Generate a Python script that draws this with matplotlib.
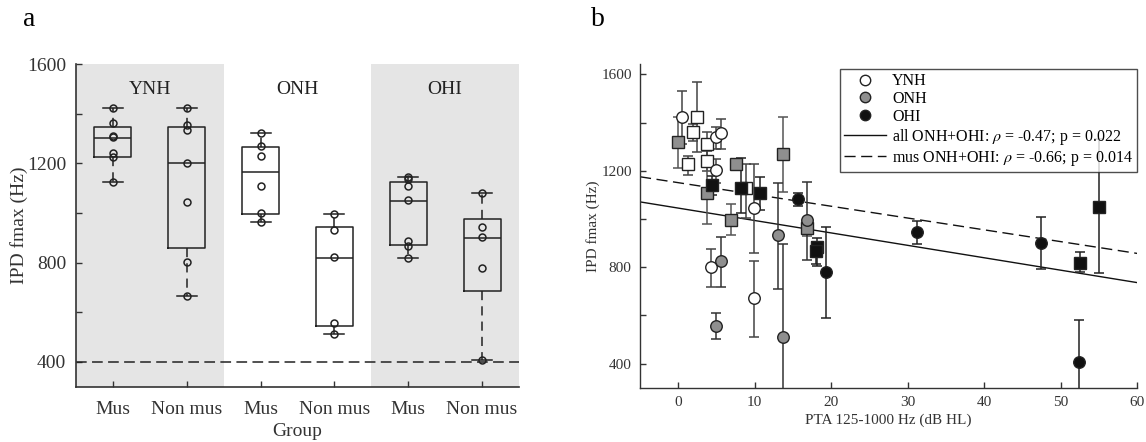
import matplotlib
matplotlib.use("Agg")
import matplotlib.pyplot as plt
from matplotlib.lines import Line2D
import numpy as np

plt.rcParams['font.family'] = ['Liberation Serif', 'DejaVu Serif']
plt.rcParams['mathtext.fontset'] = 'stix'

# ---------------- Panel a data ----------------
groups = ['YNH', 'ONH', 'OHI']
tick_labels_a = ['Mus', 'Non mus', 'Mus', 'Non mus', 'Mus', 'Non mus']
ynh_mus = [1424, 1361, 1311, 1305, 1243, 1224, 1126]
ynh_non = [1423, 1354, 1334, 1203, 1046, 801, 667]
onh_mus = [1322, 1269, 1231, 1109, 1001, 965]
onh_non = [995, 933, 822, 557, 512]
ohi_mus = [1145, 1136, 1110, 1051, 887, 867, 818]
ohi_non = [1082, 945, 902, 780, 406]
box_q1 = [1226, 860, 997, 544, 869, 685]
box_med = [1301, 1200, 1167, 820, 1048, 900]
box_q3 = [1345, 1348, 1266, 945, 1124, 975]
box_lo = [1126, 667, 965, 512, 818, 406]
box_hi = [1424, 1423, 1322, 995, 1145, 1082]
chance_level = 400

# ---------------- Panel b data ----------------
# YNH musicians (white squares)
ynh_mus_x = [2.48, 1.87, 1.22, 3.71, 3.70, 8.85]
ynh_mus_y = [1421, 1359, 1226, 1309, 1240, 1127]
ynh_mus_lo = [1279, 1323, 1184, 1258, 1200, 1002]
ynh_mus_hi = [1567, 1395, 1261, 1359, 1280, 1230]
# YNH non-musicians (white circles)
ynh_non_x = [0.52, 4.27, 4.92, 5.58, 4.97, 9.93, 9.93]
ynh_non_y = [1424, 801, 1338, 1355, 1203, 1046, 670]
ynh_non_lo = [1310, 718, 1290, 1290, 1150, 859, 511]
ynh_non_hi = [1532, 876, 1380, 1415, 1250, 1230, 825]
# ONH musicians (gray squares)
onh_mus_x = [0.0, 3.70, 6.88, 7.54, 13.73, 16.86]
onh_mus_y = [1318, 1106, 995, 1228, 1268, 963]
onh_mus_lo = [1210, 977, 933, 1215, 1110, 930]
onh_mus_hi = [1424, 1250, 1060, 1240, 1421, 1000]
# ONH non-musicians (gray circles)
onh_non_x = [5.62, 4.92, 13.07, 13.73, 16.86]
onh_non_y = [825, 556, 933, 511, 995]
onh_non_lo = [716, 501, 711, 100, 829]
onh_non_hi = [926, 608, 1150, 894, 1154]
# OHI musicians (black squares)
ohi_mus_x = [4.40, 8.19, 10.68, 18.17, 18.0, 52.5, 55.0]
ohi_mus_y = [1140, 1129, 1109, 885, 865, 818, 1050]
ohi_mus_lo = [1100, 1026, 1037, 806, 815, 778, 774]
ohi_mus_hi = [1180, 1251, 1172, 923, 905, 861, 1330]
# OHI non-musicians (black circles)
ohi_non_x = [15.6, 19.35, 31.2, 47.4, 52.4]
ohi_non_y = [1082, 778, 944, 902, 407]
ohi_non_lo = [1055, 587, 898, 792, 100]
ohi_non_hi = [1106, 967, 991, 1009, 580]
# regression lines (intercept, slope)
fit_all = (1045.0, -5.15)
fit_mus = (1150.5, -4.89)
legend_labels = ['YNH', 'ONH', 'OHI',
                 r'all ONH+OHI: $\rho$ = -0.47; p = 0.022',
                 r'mus ONH+OHI: $\rho$ = -0.66; p = 0.014']

axcol = '#333333'
fig = plt.figure(figsize=(11.46, 4.42), dpi=100)

# ================= Panel a =================
ax = fig.add_axes([0.0663, 0.1251, 0.3866, 0.730])
ax.set_xlim(0.5, 6.5)
ax.set_ylim(300, 1600)
ax.axvspan(0.5, 2.5, color='#e5e5e5', zorder=0, lw=0)
ax.axvspan(4.5, 6.5, color='#e5e5e5', zorder=0, lw=0)
pos = np.arange(1, 7)
stats = []
for i in range(6):
    stats.append(dict(med=box_med[i], q1=box_q1[i], q3=box_q3[i],
                      whislo=box_lo[i], whishi=box_hi[i], fliers=[]))
ax.bxp(stats, positions=pos, widths=0.5, capwidths=0.27, showfliers=False,
       boxprops=dict(color='#222222', lw=1.1),
       whiskerprops=dict(color='#222222', lw=1.1, linestyle=(0, (6, 4))),
       capprops=dict(color='#222222', lw=1.1),
       medianprops=dict(color='#222222', lw=1.1), zorder=3)
all_a = [ynh_mus, ynh_non, onh_mus, onh_non, ohi_mus, ohi_non]
for p, vals in zip(pos, all_a):
    ax.plot([p] * len(vals), vals, 'o', mfc='none', mec='#222222', ms=5, mew=1.1, zorder=4)
ax.axhline(chance_level, color='#222222', lw=1.1, ls=(0, (7, 3.5)), zorder=2)
for g, xc in zip(groups, [1.5, 3.5, 5.5]):
    ax.text(xc, 1498, g, ha='center', va='center', fontsize=14, color='#222222')
ax.set_xticks(pos)
ax.set_xticklabels(tick_labels_a)
yt = np.arange(400, 1601, 200)
ax.set_yticks(yt)
ax.set_yticklabels([str(v) if v % 400 == 0 else '' for v in yt])
ax.tick_params(direction='in', length=4, width=1, colors=axcol, labelsize=14, pad=7)
ax.tick_params(axis='x', pad=10)
for s in ['top', 'right']:
    ax.spines[s].set_visible(False)
for s in ['left', 'bottom']:
    ax.spines[s].set_color(axcol)
    ax.spines[s].set_linewidth(1.2)
ax.set_ylabel('IPD fmax (Hz)', fontsize=14, color=axcol, labelpad=-1)
ax.set_xlabel('Group', fontsize=14, color=axcol, labelpad=4)
fig.text(0.020, 0.955, 'a', fontsize=20, ha='left', va='center')

# ================= Panel b =================
bx = fig.add_axes([0.5585, 0.1229, 0.4337, 0.7324])
bx.set_xlim(-5, 60)
bx.set_ylim(300, 1643)
xx = np.array([-5, 60])
bx.plot(xx, fit_all[0] + fit_all[1] * xx, color='#111111', lw=1.0, zorder=2)
bx.plot(xx, fit_mus[0] + fit_mus[1] * xx, color='#111111', lw=1.0, ls=(0, (8, 4)), zorder=2)

sets = [
    (ynh_mus_x, ynh_mus_y, ynh_mus_lo, ynh_mus_hi, 's', 'white', '#444444'),
    (ynh_non_x, ynh_non_y, ynh_non_lo, ynh_non_hi, 'o', 'white', '#444444'),
    (onh_mus_x, onh_mus_y, onh_mus_lo, onh_mus_hi, 's', '#8f8f8f', '#555555'),
    (onh_non_x, onh_non_y, onh_non_lo, onh_non_hi, 'o', '#8f8f8f', '#333333'),
    (ohi_mus_x, ohi_mus_y, ohi_mus_lo, ohi_mus_hi, 's', '#111111', '#222222'),
    (ohi_non_x, ohi_non_y, ohi_non_lo, ohi_non_hi, 'o', '#111111', '#222222'),
]
for xs, ys, lo, hi, mk, fc, ec in sets:
    xs = np.array(xs); ys = np.array(ys)
    yerr = np.vstack([ys - np.array(lo), np.array(hi) - ys])
    bx.errorbar(xs, ys, yerr=yerr, fmt='none', ecolor=ec, elinewidth=1.1,
                capsize=3.5, capthick=1.1, zorder=3)
    bx.plot(xs, ys, mk, mfc=fc, mec='#222222', ms=8.3 if mk == 'o' else 8.5,
            mew=1.0, zorder=4, ls='none')

handles = [
    Line2D([], [], marker='o', ls='none', mfc='white', mec='#222222', ms=7.5),
    Line2D([], [], marker='o', ls='none', mfc='#8f8f8f', mec='#222222', ms=7.5),
    Line2D([], [], marker='o', ls='none', mfc='#111111', mec='#222222', ms=7.5),
    Line2D([], [], color='#111111', lw=1.0),
    Line2D([], [], color='#111111', lw=1.0, ls=(0, (8, 4))),
]
leg = bx.legend(handles, legend_labels, loc='upper right', bbox_to_anchor=(1.0, 0.984),
                borderaxespad=0, fontsize=11.5, frameon=True, fancybox=False,
                handlelength=2.6, handletextpad=0.4, labelspacing=0.12,
                borderpad=0.25)
leg.get_frame().set_edgecolor('#222222')
leg.get_frame().set_linewidth(1.0)
leg.set_zorder(10)

bx.set_xticks(np.arange(0, 61, 10))
bx.set_yticks(yt)
bx.set_yticklabels([str(v) if v % 400 == 0 else '' for v in yt])
bx.tick_params(direction='in', length=4, width=1, colors=axcol, labelsize=11, pad=6)
for s in ['top', 'right']:
    bx.spines[s].set_visible(False)
for s in ['left', 'bottom']:
    bx.spines[s].set_color(axcol)
    bx.spines[s].set_linewidth(1.0)
bx.set_ylabel('IPD fmax (Hz)', fontsize=11, color=axcol, labelpad=1)
bx.set_xlabel('PTA 125-1000 Hz (dB HL)', fontsize=11, color=axcol, labelpad=3)
fig.text(0.516, 0.955, 'b', fontsize=20, ha='left', va='center')

fig.savefig('out.png', dpi=100)
